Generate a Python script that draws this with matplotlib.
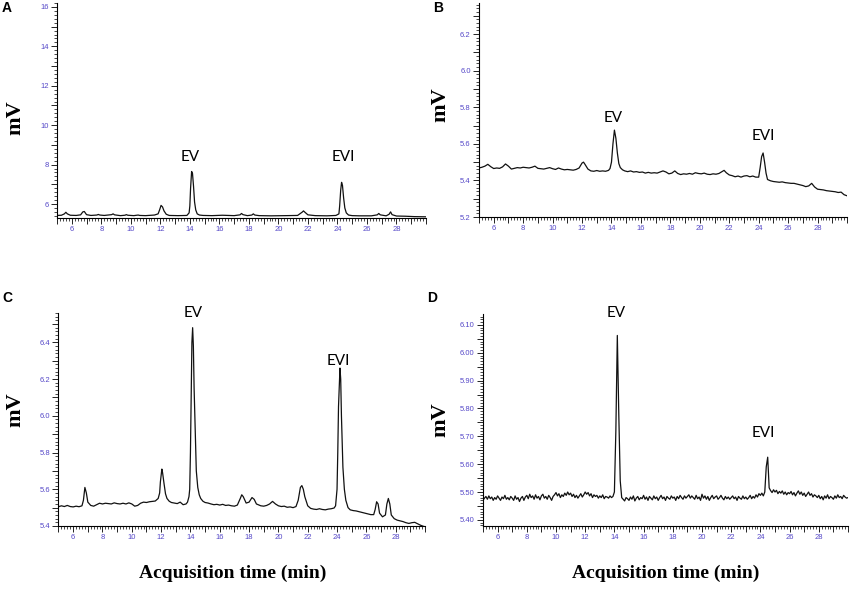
import numpy as np
import matplotlib
matplotlib.use('Agg')
import matplotlib.pyplot as plt
from matplotlib.ticker import MultipleLocator, FuncFormatter

plt.rcParams['font.family'] = ['Liberation Sans', 'DejaVu Sans']

# ---- 数据：色谱曲线 (时间 min, 信号 mV) ----
t_a = [5.0, 5.3, 5.5, 5.6, 5.7, 5.9, 6.3, 6.6, 6.75, 6.85, 7.0, 7.3, 7.7, 7.8, 7.9,
       8.2, 8.7, 8.8, 8.9, 9.3, 9.6, 9.7, 9.8, 10.2, 10.5, 10.6, 11.0, 11.6, 11.85,
       11.95, 12.05, 12.15, 12.25, 12.4, 12.6, 13.2, 13.8, 13.95, 14.0, 14.05, 14.12,
       14.18, 14.25, 14.32, 14.4, 14.5, 14.65, 14.9, 15.5, 16.2, 17.0, 17.4, 17.5,
       17.6, 17.9, 18.2, 18.3, 18.4, 18.7, 19.5, 20.5, 21.3, 21.6, 21.7, 21.8, 22.0,
       22.5, 23.3, 23.9, 24.1, 24.15, 24.22, 24.28, 24.34, 24.42, 24.5, 24.6, 24.75,
       25.0, 25.5, 26.3, 26.7, 26.8, 26.9, 27.3, 27.5, 27.6, 27.7, 28.0, 28.6, 29.2,
       30.0]
v_a = [5.42, 5.43, 5.50, 5.58, 5.50, 5.43, 5.42, 5.45, 5.60, 5.62, 5.46, 5.42, 5.44, 5.47, 5.44,
       5.42, 5.46, 5.50, 5.45, 5.41, 5.43, 5.46, 5.43, 5.41, 5.44, 5.42, 5.41, 5.44, 5.50,
       5.70, 5.93, 5.85, 5.65, 5.48, 5.42, 5.41, 5.42, 5.55, 5.90, 6.80, 7.65,
       7.55, 6.90, 6.10, 5.70, 5.50, 5.44, 5.42, 5.41, 5.43, 5.41, 5.45, 5.52,
       5.46, 5.41, 5.44, 5.50, 5.44, 5.41, 5.40, 5.41, 5.42, 5.58, 5.65, 5.58, 5.45,
       5.41, 5.40, 5.42, 5.50, 5.90, 6.70, 7.10, 6.95, 6.30, 5.80, 5.55, 5.44,
       5.41, 5.40, 5.40, 5.45, 5.52, 5.45, 5.40, 5.48, 5.60, 5.46, 5.39, 5.38, 5.36,
       5.35]

t_b = [5.0, 5.2, 5.4, 5.6, 5.8, 6.0, 6.2, 6.4, 6.6, 6.8, 7.0, 7.2, 7.4, 7.6, 7.8,
       8.0, 8.2, 8.4, 8.6, 8.8, 9.0, 9.2, 9.4, 9.6, 9.8, 10.0, 10.2, 10.4, 10.6, 10.8,
       11.0, 11.2, 11.4, 11.6, 11.8, 12.0, 12.1, 12.2, 12.4, 12.6, 12.8, 13.0, 13.2,
       13.4, 13.6, 13.8, 13.9, 14.0, 14.1, 14.2, 14.3, 14.4, 14.5, 14.6, 14.75, 14.9,
       15.1, 15.3, 15.5, 15.7, 15.9, 16.1, 16.3, 16.5, 16.7, 16.9, 17.1, 17.3, 17.5,
       17.7, 17.9, 18.1, 18.3, 18.5, 18.7, 18.9, 19.1, 19.3, 19.5, 19.7, 19.9, 20.1,
       20.3, 20.5, 20.7, 20.9, 21.1, 21.3, 21.5, 21.65, 21.8, 22.0, 22.2, 22.4, 22.6,
       22.8, 23.0, 23.2, 23.4, 23.6, 23.8, 24.0, 24.1, 24.2, 24.3, 24.4, 24.5, 24.6,
       24.8, 25.0, 25.2, 25.4, 25.6, 25.8, 26.0, 26.2, 26.4, 26.6, 26.8, 27.0, 27.2,
       27.4, 27.6, 27.8, 28.0, 28.2, 28.4, 28.6, 28.8, 29.0, 29.2, 29.4, 29.6, 29.8,
       30.0]
v_b = [5.468, 5.472, 5.478, 5.488, 5.475, 5.465, 5.468, 5.466, 5.474, 5.490, 5.478, 5.462, 5.466, 5.470, 5.468,
       5.472, 5.470, 5.468, 5.472, 5.478, 5.466, 5.464, 5.462, 5.466, 5.470, 5.464, 5.460, 5.468, 5.462, 5.458,
       5.460, 5.458, 5.456, 5.460, 5.468, 5.495, 5.500, 5.488, 5.462, 5.452, 5.450, 5.454, 5.450,
       5.452, 5.450, 5.455, 5.465, 5.500, 5.600, 5.675, 5.630, 5.550, 5.492, 5.470, 5.458, 5.452,
       5.448, 5.452, 5.446, 5.448, 5.444, 5.446, 5.440, 5.444, 5.440, 5.442, 5.440, 5.446, 5.452,
       5.446, 5.436, 5.440, 5.452, 5.438, 5.432, 5.436, 5.434, 5.438, 5.434, 5.442, 5.438, 5.436,
       5.440, 5.434, 5.432, 5.436, 5.434, 5.438, 5.448, 5.455, 5.442, 5.430, 5.426, 5.420, 5.424,
       5.418, 5.424, 5.426, 5.420, 5.424, 5.418, 5.418, 5.470, 5.530, 5.550, 5.500, 5.440, 5.405,
       5.398, 5.394, 5.392, 5.390, 5.392, 5.388, 5.386, 5.384, 5.384, 5.380, 5.376, 5.372, 5.366,
       5.370, 5.384, 5.364, 5.352, 5.350, 5.348, 5.344, 5.342, 5.340, 5.338, 5.334, 5.336, 5.322,
       5.316]

t_c = [5.0, 5.2, 5.4, 5.6, 5.8, 6.0, 6.2, 6.4, 6.6, 6.7, 6.8, 6.9, 7.0, 7.2, 7.4,
       7.6, 7.8, 8.0, 8.2, 8.4, 8.6, 8.8, 9.0, 9.2, 9.4, 9.6, 9.8, 10.0, 10.2, 10.4,
       10.6, 10.8, 11.0, 11.2, 11.4, 11.6, 11.8, 11.9, 11.95, 12.05, 12.1, 12.2, 12.3,
       12.4, 12.55, 12.7, 12.9, 13.1, 13.3, 13.5, 13.7, 13.8, 13.9, 13.95, 14.0, 14.05,
       14.1, 14.15, 14.2, 14.25, 14.3, 14.35, 14.4, 14.5, 14.6, 14.7, 14.85, 15.0, 15.2,
       15.4, 15.6, 15.8, 16.0, 16.2, 16.4, 16.6, 16.8, 17.0, 17.2, 17.4, 17.5, 17.6,
       17.8, 18.0, 18.2, 18.35, 18.5, 18.8, 19.0, 19.2, 19.4, 19.6, 19.8, 20.0, 20.2,
       20.4, 20.6, 20.8, 21.0, 21.2, 21.35, 21.5, 21.6, 21.7, 21.8, 22.0, 22.2, 22.4,
       22.6, 22.8, 23.0, 23.2, 23.4, 23.6, 23.8, 23.9, 24.0, 24.05, 24.1, 24.2, 24.25,
       24.3, 24.35, 24.4, 24.5, 24.6, 24.75, 24.9, 25.1, 25.3, 25.5, 25.7, 25.9, 26.1,
       26.3, 26.5, 26.6, 26.7, 26.8, 26.9, 27.1, 27.3, 27.4, 27.5, 27.6, 27.7, 27.9,
       28.1, 28.3, 28.5, 28.7, 28.9, 29.1, 29.3, 29.5, 29.7, 29.9, 30.0]
v_c = [5.505, 5.510, 5.506, 5.512, 5.506, 5.504, 5.508, 5.505, 5.510, 5.540, 5.610, 5.580, 5.530, 5.512, 5.508,
       5.516, 5.524, 5.520, 5.524, 5.522, 5.520, 5.526, 5.522, 5.520, 5.524, 5.520, 5.526, 5.520, 5.508, 5.512,
       5.524, 5.530, 5.528, 5.532, 5.534, 5.536, 5.550, 5.580, 5.640, 5.710, 5.690, 5.630, 5.575,
       5.550, 5.535, 5.528, 5.525, 5.522, 5.530, 5.516, 5.520, 5.530, 5.560, 5.600, 5.800, 6.100,
       6.400, 6.480, 6.380, 6.150, 6.000, 5.850, 5.700, 5.610, 5.570, 5.550, 5.535, 5.528, 5.525,
       5.520, 5.516, 5.518, 5.514, 5.518, 5.512, 5.514, 5.510, 5.508, 5.514, 5.550, 5.570, 5.560,
       5.525, 5.530, 5.555, 5.545, 5.520, 5.510, 5.508, 5.512, 5.520, 5.534, 5.520, 5.510, 5.506,
       5.508, 5.502, 5.504, 5.500, 5.506, 5.540, 5.610, 5.620, 5.600, 5.560, 5.510, 5.496, 5.492,
       5.490, 5.494, 5.490, 5.488, 5.492, 5.494, 5.498, 5.510, 5.600, 5.800, 6.050, 6.260, 6.200,
       6.000, 5.850, 5.720, 5.600, 5.540, 5.500, 5.488, 5.484, 5.482, 5.478, 5.474, 5.470, 5.466,
       5.462, 5.462, 5.490, 5.532, 5.520, 5.470, 5.450, 5.460, 5.520, 5.550, 5.520, 5.460, 5.440,
       5.432, 5.428, 5.424, 5.418, 5.414, 5.418, 5.420, 5.412, 5.404, 5.398, 5.396]

# D 以 0.1 min 间隔采样
t_d = np.round(np.arange(50, 301) / 10, 1)
v_d = [5.470, 5.478, 5.484, 5.474, 5.486, 5.476, 5.482, 5.470, 5.480, 5.474,
       5.486, 5.478, 5.470, 5.482, 5.476, 5.488, 5.474, 5.480, 5.472, 5.484,
       5.478, 5.470, 5.486, 5.474, 5.480, 5.466, 5.478, 5.484, 5.470, 5.482,
       5.488, 5.476, 5.492, 5.480, 5.486, 5.474, 5.490, 5.478, 5.484, 5.472,
       5.486, 5.492, 5.478, 5.484, 5.474, 5.488, 5.480, 5.470, 5.484, 5.490,
       5.498, 5.486, 5.494, 5.480, 5.490, 5.484, 5.496, 5.488, 5.500, 5.490,
       5.496, 5.484, 5.492, 5.480, 5.488, 5.478, 5.486, 5.494, 5.482, 5.490,
       5.500, 5.492, 5.498, 5.486, 5.494, 5.480, 5.490, 5.484, 5.488, 5.478,
       5.486, 5.480, 5.490, 5.476, 5.484, 5.482, 5.478, 5.486, 5.480, 5.484,
       5.500, 5.720, 6.062, 5.780, 5.540, 5.480, 5.474, 5.468, 5.480, 5.476,
       5.470, 5.482, 5.474, 5.486, 5.468, 5.478, 5.484, 5.472, 5.480, 5.476,
       5.488, 5.474, 5.482, 5.470, 5.484, 5.478, 5.472, 5.486, 5.476, 5.482,
       5.470, 5.480, 5.488, 5.476, 5.482, 5.470, 5.484, 5.478, 5.474, 5.486,
       5.478, 5.482, 5.470, 5.484, 5.476, 5.488, 5.480, 5.474, 5.486, 5.478,
       5.484, 5.490, 5.478, 5.486, 5.480, 5.474, 5.488, 5.476, 5.482, 5.470,
       5.492, 5.478, 5.486, 5.474, 5.484, 5.470, 5.480, 5.488, 5.476, 5.482,
       5.486, 5.474, 5.480, 5.488, 5.478, 5.472, 5.484, 5.476, 5.482, 5.474,
       5.480, 5.486, 5.476, 5.482, 5.470, 5.484, 5.478, 5.474, 5.486, 5.476,
       5.482, 5.474, 5.480, 5.488, 5.476, 5.484, 5.478, 5.490, 5.482, 5.494,
       5.488, 5.496, 5.486, 5.500, 5.590, 5.625, 5.515, 5.505, 5.498, 5.508,
       5.500, 5.506, 5.494, 5.502, 5.496, 5.504, 5.492, 5.500, 5.490, 5.498,
       5.494, 5.502, 5.490, 5.498, 5.486, 5.496, 5.504, 5.492, 5.500, 5.488,
       5.496, 5.484, 5.492, 5.500, 5.488, 5.494, 5.482, 5.490, 5.486, 5.480,
       5.488, 5.476, 5.484, 5.472, 5.486, 5.478, 5.490, 5.476, 5.484, 5.480,
       5.474, 5.486, 5.478, 5.490, 5.480, 5.484, 5.476, 5.488, 5.482, 5.478,
       5.480]

ylims = {'A': (5.29, 16.2), 'B': (5.2, 6.37), 'C': (5.4, 6.56), 'D': (5.378, 6.139)}
ystep = {'A': 2, 'B': 0.2, 'C': 0.2, 'D': 0.1}
yfmt = {'A': '{:g}', 'B': '{:.1f}', 'C': '{:.1f}', 'D': '{:.2f}'}

# 标注 (x, y 为像素坐标, 左上角原点)
peak_labels = {
    'A': [('EV', 190, 157), ('EVI', 343, 157)],
    'B': [('EV', 613, 118), ('EVI', 763, 136)],
    'C': [('EV', 193, 313), ('EVI', 338, 361)],
    'D': [('EV', 616, 313), ('EVI', 763, 433)],
}

W, H = 850, 591
TICK_COLOR = '#5548c8'

# 轴位置 (像素: 左, 上, 右, 下)
boxes = {'A': (57, 3, 426, 218), 'B': (479, 3, 847, 217),
         'C': (58.5, 313, 425, 526), 'D': (483, 314, 848, 526)}

fig = plt.figure(figsize=(W / 100, H / 100), dpi=100)


def label_fmt(step, fmt, lo, hi):
    def f(v, pos):
        k = v / step
        if abs(k - round(k)) < 1e-6 and lo - 1e-9 <= v <= hi + 1e-9:
            return fmt.format(v)
        return ''
    return FuncFormatter(f)


def make_axes(key, t, v):
    l, tp, r, b = boxes[key]
    ax = fig.add_axes([l / W, (H - b) / H, (r - l) / W, (b - tp) / H])
    ax.plot(t, v, color='#111111', lw=0.9)
    ax.set_xlim(5, 30)
    ax.set_ylim(*ylims[key])
    for s in ('top', 'right'):
        ax.spines[s].set_visible(False)
    for s in ('left', 'bottom'):
        ax.spines[s].set_linewidth(0.8)
    # x 轴刻度
    ax.xaxis.set_major_locator(MultipleLocator(1))
    ax.xaxis.set_minor_locator(MultipleLocator(0.2))
    ax.xaxis.set_major_formatter(label_fmt(2, '{:g}', 6, 28))
    # y 轴刻度
    st = ystep[key]
    ax.yaxis.set_major_locator(MultipleLocator(st / 2))
    ax.yaxis.set_minor_locator(MultipleLocator(st / 10))
    ax.yaxis.set_major_formatter(label_fmt(st, yfmt[key], -1e9, 1e9))
    ax.tick_params(which='major', length=4, width=0.6, labelsize=5.5,
                   labelcolor=TICK_COLOR, pad=2)
    ax.tick_params(which='minor', length=2, width=0.5)
    for txt, px, py in peak_labels[key]:
        fig.text(px / W, 1 - py / H, txt, ha='center', va='center',
                 fontsize=11, family=['Lato', 'DejaVu Sans'])
    return ax


make_axes('A', t_a, v_a)
make_axes('B', t_b, v_b)
make_axes('C', t_c, v_c)
make_axes('D', t_d, v_d)

# 面板字母
for letter, px, py in [('A', 7, 8), ('B', 438, 8), ('C', 7, 298), ('D', 432, 298)]:
    fig.text(px / W, 1 - py / H, letter, ha='center', va='center',
             fontsize=10, fontweight='bold')

# y 轴标题
for px, py in [(15, 118), (440, 105), (15, 410), (440, 420)]:
    fig.text(px / W, 1 - py / H, 'mV', rotation=90, ha='center', va='center',
             fontsize=16, fontweight='bold', family=['Liberation Serif', 'DejaVu Serif'])

# x 轴标题
for px in (233, 666):
    fig.text(px / W, 1 - 573 / H, 'Acquisition time (min)', ha='center', va='center',
             fontsize=14, fontweight='bold', family=['Liberation Serif', 'DejaVu Serif'])

fig.savefig('out.png', dpi=100, facecolor='white')
